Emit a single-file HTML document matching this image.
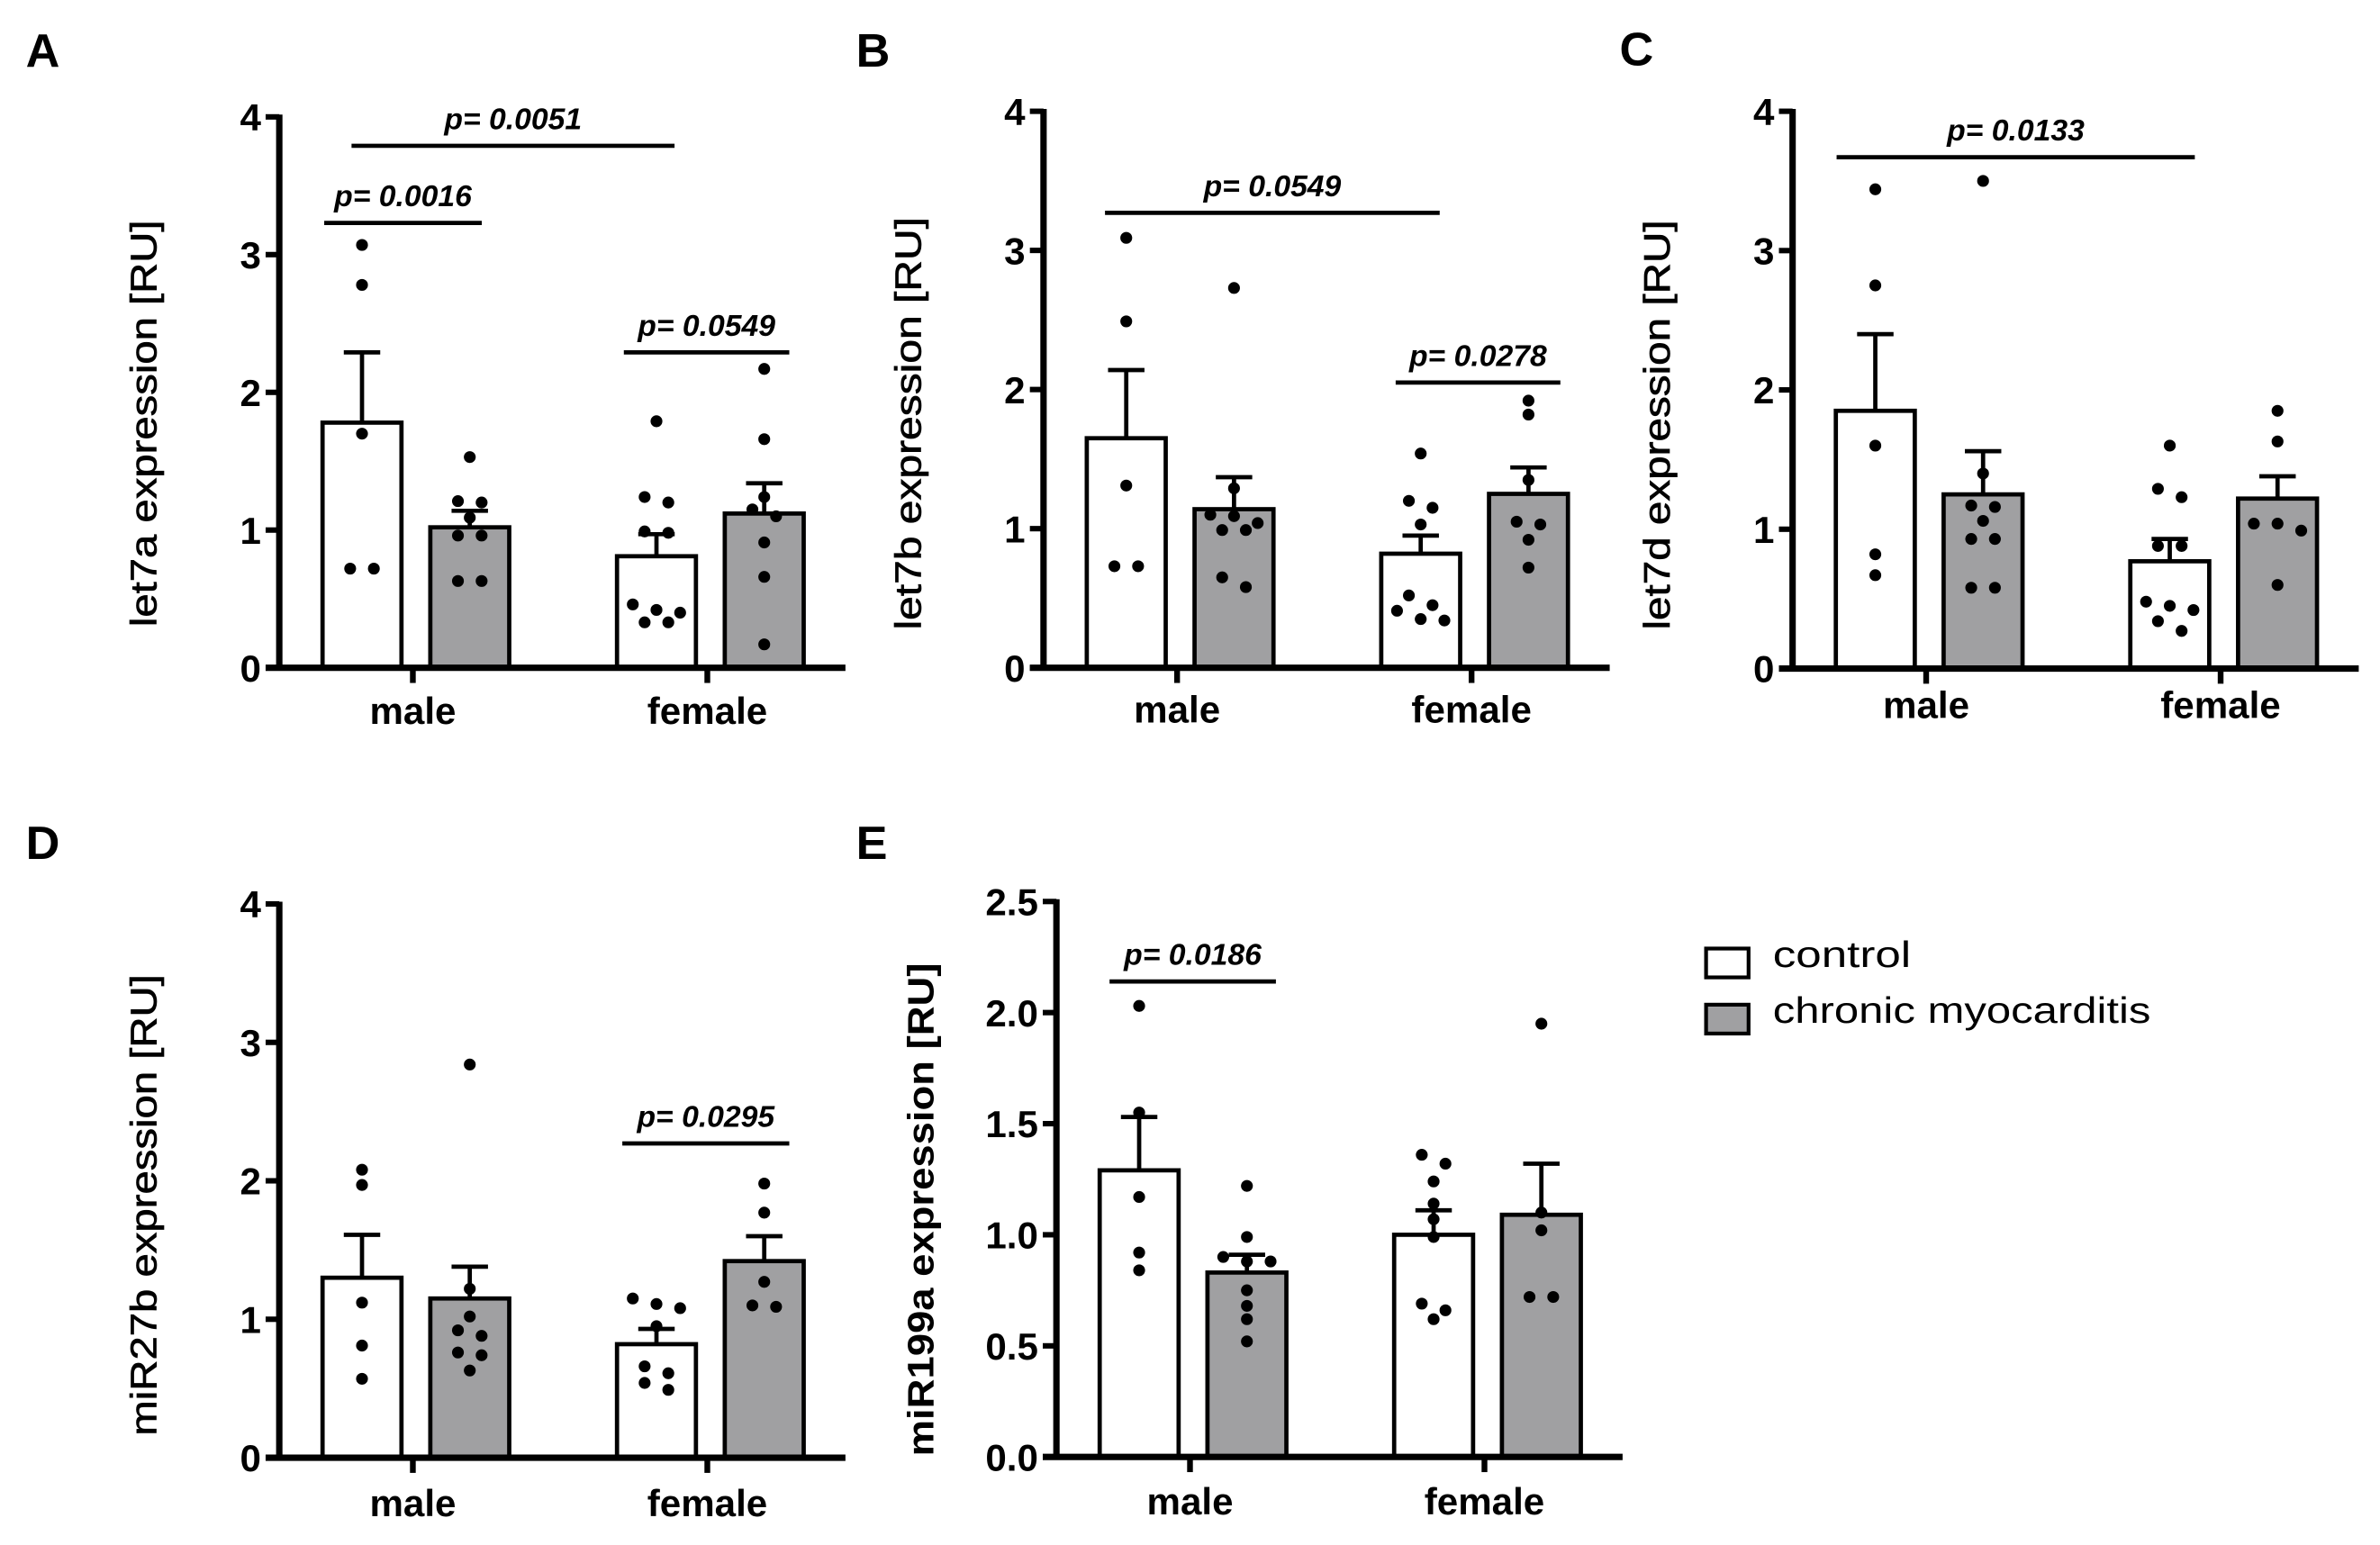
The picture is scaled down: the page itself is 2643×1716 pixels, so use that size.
<!DOCTYPE html>
<html><head><meta charset="utf-8"><style>
html,body{margin:0;padding:0;background:#fff;}
svg{display:block;font-family:"Liberation Sans",Arial,sans-serif;}
</style></head><body>
<svg id="fig" xmlns="http://www.w3.org/2000/svg" width="2643" height="1716" viewBox="0 0 1568 1018">
<rect x="0" y="0" width="1568" height="1018" fill="#fff"/>
<g>
  <rect x="1124" y="625" width="28" height="19" fill="#fff" stroke="#000" stroke-width="2.5"/>
  <text x="1168" y="637" font-size="24" textLength="91" lengthAdjust="spacingAndGlyphs">control</text>
  <rect x="1124" y="662" width="28" height="19" fill="#a0a0a2" stroke="#000" stroke-width="2.5"/>
  <text x="1168" y="674" font-size="24" textLength="249" lengthAdjust="spacingAndGlyphs">chronic myocarditis</text>
</g>
</svg>
<script>
// ---------- data ----------
const groups = ['male', 'female'];
const seriesNames = ['control', 'chronic myocarditis'];
const ticks4 = [0, 1, 2, 3, 4];
const tickLabels4 = ['0', '1', '2', '3', '4'];
const ticksE = [0, 0.5, 1, 1.5, 2, 2.5];
const tickLabelsE = ['0.0', '0.5', '1.0', '1.5', '2.0', '2.5'];

// order: control-male, CM-male, control-female, CM-female
const aMeans = [1.78, 1.02, 0.81, 1.12];
const aErrTop = [2.29, 1.14, 0.97, 1.34];
const aPoints = [
  [3.07, 2.78, 1.70, 0.72, 0.72],
  [1.53, 1.21, 1.20, 1.09, 0.96, 0.96, 0.63, 0.63],
  [1.79, 1.24, 1.20, 0.99, 0.98, 0.46, 0.40, 0.42, 0.33, 0.33],
  [2.17, 1.66, 1.24, 1.15, 1.10, 0.91, 0.66, 0.17]
];
const aSigValues = [3.79, 3.23, 2.29];
const aSigLabels = ['p= 0.0051', 'p= 0.0016', 'p= 0.0549'];

const bMeans = [1.65, 1.14, 0.82, 1.25];
const bErrTop = [2.14, 1.37, 0.95, 1.44];
const bPoints = [
  [3.09, 2.49, 1.31, 0.73, 0.73],
  [2.73, 1.29, 1.10, 1.04, 1.09, 0.99, 0.99, 0.65, 0.58],
  [1.54, 1.20, 1.15, 1.03, 0.52, 0.41, 0.45, 0.35, 0.34],
  [1.92, 1.82, 1.35, 1.03, 1.05, 0.92, 0.72]
];
const bSigValues = [3.27, 2.05];
const bSigLabels = ['p= 0.0549', 'p= 0.0278'];

const cMeans = [1.85, 1.25, 0.77, 1.22];
const cErrTop = [2.40, 1.56, 0.93, 1.38];
const cPoints = [
  [3.44, 2.75, 1.60, 0.82, 0.67],
  [3.50, 1.40, 1.17, 1.16, 1.06, 0.93, 0.93, 0.58, 0.58],
  [1.60, 1.29, 1.23, 0.88, 0.88, 0.48, 0.42, 0.45, 0.34, 0.27],
  [1.85, 1.63, 1.04, 1.04, 0.99, 0.60]
];
const cSigValues = [3.67];
const cSigLabels = ['p= 0.0133'];

const dMeans = [1.30, 1.15, 0.82, 1.42];
const dErrTop = [1.61, 1.38, 0.93, 1.60];
const dPoints = [
  [2.08, 1.97, 1.12, 0.81, 0.57],
  [2.84, 1.22, 1.02, 0.92, 0.88, 0.76, 0.74, 0.63],
  [1.08, 1.11, 1.15, 0.95, 0.66, 0.61, 0.54, 0.49],
  [1.98, 1.77, 1.27, 1.09, 1.10]
];
const dSigValues = [2.27];
const dSigLabels = ['p= 0.0295'];

const eMeans = [1.29, 0.83, 1.00, 1.09];
const eErrTop = [1.53, 0.91, 1.11, 1.32];
const ePoints = [
  [2.03, 1.55, 1.17, 0.92, 0.84],
  [1.22, 0.99, 0.88, 0.90, 0.88, 0.75, 0.68, 0.62, 0.52],
  [1.32, 1.36, 1.24, 1.14, 1.07, 0.99, 0.69, 0.66, 0.62],
  [1.95, 1.10, 1.02, 0.72, 0.72]
];
const eSigValues = [2.14];
const eSigLabels = ['p= 0.0186'];

// ---------- layout (pixels, not data) ----------
const panels = [
  {id:'a', letter:'A', lx:17, ly:44, ax:184, y0:440, yTop:77, max:4, ticks:ticks4, tl:tickLabels4,
   means:aMeans, err:aErrTop, pts:aPoints, sigV:aSigValues, sigL:aSigLabels,
   sigX:[[47.6,260.4],[29.6,133.4],[227,336]], ylab:'let7a expression [RU]', ylabLen:268, ylabCy:279, xlabY:477, bold:false},
  {id:'b', letter:'B', lx:564, ly:44, ax:687.5, y0:440, yTop:73.3, max:4, ticks:ticks4, tl:tickLabels4,
   means:bMeans, err:bErrTop, pts:bPoints, sigV:bSigValues, sigL:bSigLabels,
   sigX:[[40.5,261],[232,340.5]], ylab:'let7b expression [RU]', ylabLen:272, ylabCy:279, xlabY:476, bold:false},
  {id:'c', letter:'C', lx:1067, ly:43, ax:1181, y0:440.5, yTop:73.3, max:4, ticks:ticks4, tl:tickLabels4,
   means:cMeans, err:cErrTop, pts:cPoints, sigV:cSigValues, sigL:cSigLabels,
   sigX:[[29,265]], ylab:'let7d expression [RU]', ylabLen:270, ylabCy:280, xlabY:473, bold:false},
  {id:'d', letter:'D', lx:17, ly:566, ax:184, y0:960.5, yTop:595.6, max:4, ticks:ticks4, tl:tickLabels4,
   means:dMeans, err:dErrTop, pts:dPoints, sigV:dSigValues, sigL:dSigLabels,
   sigX:[[226,336]], ylab:'miR27b expression [RU]', ylabLen:304, ylabCy:794, xlabY:999, bold:false},
  {id:'e', letter:'E', lx:564, ly:566, ax:696, y0:960, yTop:594, max:2.5, ticks:ticksE, tl:tickLabelsE,
   means:eMeans, err:eErrTop, pts:ePoints, sigV:eSigValues, sigL:eSigLabels,
   sigX:[[35,144.6]], ylab:'miR199a expression [RU]', ylabLen:325, ylabCy:797, xlabY:998, bold:true}
];
const BAR_W = 52, GROUP_OFF = [90, 284], BAR_OFF = 35.5, DOT_R = 3.9, DOT_STEP = 15.6;
const FILLS = ['#ffffff', '#a0a0a2'];

const NS = 'http://www.w3.org/2000/svg';
const svg = document.getElementById('fig');
function mk(tag, attrs, parent) {
  const el = document.createElementNS(NS, tag);
  for (const k in attrs) el.setAttribute(k, attrs[k]);
  parent.appendChild(el);
  return el;
}

panels.forEach(p => {
  const yScale = v => p.y0 - (v / p.max) * (p.y0 - p.yTop);
  const groupX = gi => p.ax + GROUP_OFF[gi];
  const barX = bi => groupX(Math.floor(bi / 2)) + (bi % 2 === 0 ? -BAR_OFF : BAR_OFF);

  const g = mk('g', {}, svg);
  
  

  const letter = mk('text', {x:p.lx, y:p.ly, 'font-size':31, 'font-weight':'bold'}, g);
  letter.textContent = p.letter;
  
  

  const yl = mk('text', {transform:`translate(${p.ax - 81},${p.ylabCy}) rotate(-90)`, 'text-anchor':'middle',
    'font-size':24, 'font-weight':p.bold ? 'bold' : 'normal', stroke:p.bold ? 'none' : '#000', 'stroke-width':0.4,
    textLength:p.ylabLen, lengthAdjust:'spacingAndGlyphs'}, g);
  yl.textContent = p.ylab;
  
  

  p.means.forEach((m, bi) => {
    const cx = barX(bi);
    const bar = mk('rect', {x:cx - BAR_W / 2, y:yScale(m), width:BAR_W, height:p.y0 - yScale(m),
      fill:FILLS[bi % 2], stroke:'#000', 'stroke-width':2.8}, g);
    
    

    const eb = mk('path', {d:`M${cx},${yScale(m)}V${yScale(p.err[bi])}M${cx - 12},${yScale(p.err[bi])}H${cx + 12}`,
      stroke:'#000', 'stroke-width':2.8, fill:'none'}, g);
    
    

    const sorted = p.pts[bi].slice().sort((a, b) => b - a);
    const rows = [];
    sorted.forEach(v => {
      const y = yScale(v);
      const last = rows[rows.length - 1];
      if (last && Math.abs(y - last.y0) < 8) last.vals.push(v); else rows.push({y0:y, vals:[v]});
    });
    rows.forEach(r => {
      r.vals.forEach((v, k) => {
        const off = (k - (r.vals.length - 1) / 2) * DOT_STEP;
        const dot = mk('circle', {cx:cx + off, cy:yScale(v), r:DOT_R, fill:'#000'}, g);
        
        
      });
    });
  });

  const yAxis = mk('line', {x1:p.ax, y1:p.yTop - 1.5, x2:p.ax, y2:p.y0, stroke:'#000', 'stroke-width':4.2}, g);
  
  
  const xAxis = mk('line', {x1:p.ax - 9, y1:p.y0, x2:p.ax + 373, y2:p.y0, stroke:'#000', 'stroke-width':4.2}, g);
  
  

  p.ticks.forEach((t, i) => {
    const y = yScale(t);
    const tk = mk('line', {x1:p.ax - 9, y1:y, x2:p.ax, y2:y, stroke:'#000', 'stroke-width':3.6}, g);
    
    
    const lb = mk('text', {x:p.ax - 12, y:y + 9, 'text-anchor':'end', 'font-size':25, 'font-weight':'bold'}, g);
    lb.textContent = p.tl[i];
    
    
  });

  groups.forEach((gname, gi) => {
    const x = groupX(gi) - 2;
    const tk = mk('line', {x1:x, y1:p.y0, x2:x, y2:p.y0 + 10, stroke:'#000', 'stroke-width':3.8}, g);
    
    
    const lb = mk('text', {x:x, y:p.xlabY, 'text-anchor':'middle', 'font-size':25, 'font-weight':'bold'}, g);
    lb.textContent = gname;
    
    
  });

  p.sigV.forEach((v, si) => {
    const y = yScale(v);
    const x1 = p.ax + p.sigX[si][0], x2 = p.ax + p.sigX[si][1];
    const ln = mk('line', {x1:x1, y1:y, x2:x2, y2:y, stroke:'#000', 'stroke-width':2.8}, g);
    
    
    const tx = mk('text', {x:(x1 + x2) / 2, y:y - 11, 'text-anchor':'middle', 'font-size':20,
      'font-weight':'bold', 'font-style':'italic'}, g);
    tx.textContent = p.sigL[si];
    
    
  });
});
</script>
</body></html>
